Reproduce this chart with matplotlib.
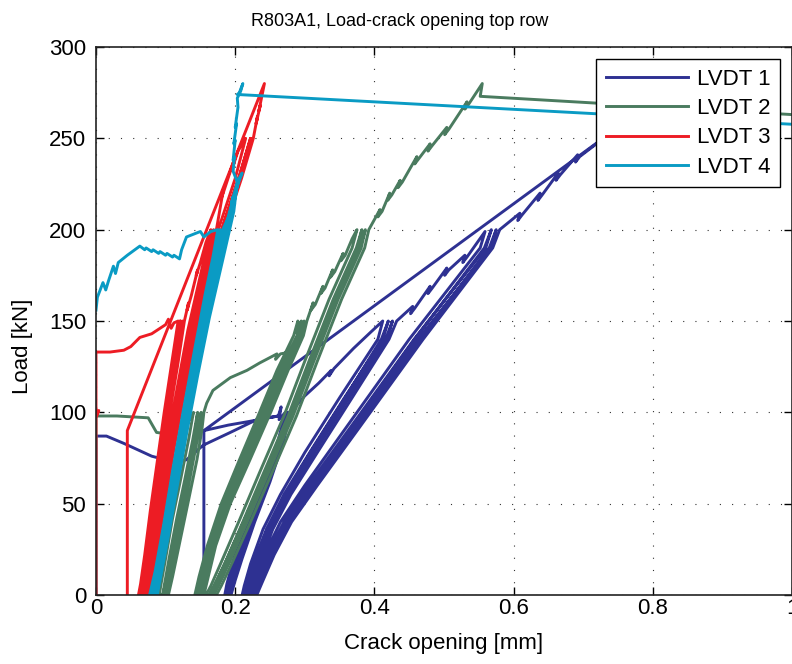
import numpy as np
import matplotlib
matplotlib.use('Agg')
import matplotlib.pyplot as plt

plt.rcParams['font.family'] = ['Liberation Sans', 'DejaVu Sans']

# ---- data (crack opening [mm], load [kN]) ----
nan = np.nan

lvdt1_x = [0, 0, 0.015, 0.04, 0.08, 0.11, 0.13, 0.154, 0.193, 0.231, 0.262, 0.266, 0.263, 0.272,
           0.262, 0.24, 0.217, 0.198, 0.188, 0.185, 0.19, 0.196, 0.205, 0.222, 0.245, 0.266, 0.275,
           0.265, 0.243, 0.22, 0.201, 0.19, 0.187, 0.192, 0.198, 0.207, 0.225, 0.248, 0.268, 0.277,
           0.267, 0.245, 0.222, 0.203, 0.192, 0.189, 0.194, 0.2, 0.21, 0.228, 0.25, 0.27, 0.279,
           0.3, 0.32, 0.338, 0.335, 0.342, 0.37, 0.395, 0.412,
           0.405, 0.35, 0.3, 0.265, 0.24, 0.222, 0.213, 0.21, 0.215, 0.219, 0.228, 0.246, 0.272, 0.308, 0.358, 0.41, 0.42,
           0.412, 0.357, 0.307, 0.27, 0.245, 0.226, 0.216, 0.213, 0.218, 0.222, 0.232, 0.25, 0.276, 0.313, 0.363, 0.416, 0.426,
           0.418, 0.362, 0.312, 0.275, 0.249, 0.23, 0.22, 0.216, 0.221, 0.226, 0.236, 0.254, 0.28, 0.318, 0.368, 0.421, 0.432,
           0.455, 0.452, 0.458, 0.48, 0.477, 0.483, 0.504, 0.501, 0.507, 0.53, 0.527, 0.533, 0.559,
           0.552, 0.45, 0.36, 0.3, 0.265, 0.242, 0.228, 0.22, 0.225, 0.233, 0.248, 0.272, 0.308, 0.368, 0.458, 0.558, 0.568,
           0.56, 0.457, 0.366, 0.305, 0.27, 0.246, 0.231, 0.223, 0.228, 0.236, 0.252, 0.277, 0.313, 0.374, 0.465, 0.565, 0.575,
           0.567, 0.463, 0.371, 0.309, 0.274, 0.25, 0.234, 0.226, 0.231, 0.24, 0.256, 0.281, 0.318, 0.379, 0.47, 0.57, 0.58,
           0.609, 0.606, 0.612, 0.638, 0.635, 0.641, 0.664, 0.661, 0.667, 0.692, 0.689, 0.695, 0.75,
           0.155, 0.155, nan, 0.155, 0.19, 0.22, 0.262]
lvdt1_y = [0, 87, 87, 83, 76, 73, 74, 82, 89, 96, 98, 103, 96, 100,
           85, 62, 40, 20, 6, 0, 0, 8, 20, 40, 62, 85, 100,
           85, 62, 40, 20, 6, 0, 0, 8, 20, 40, 62, 85, 100,
           85, 62, 40, 20, 6, 0, 0, 8, 20, 40, 62, 85, 100,
           109, 116, 123, 120, 124, 135, 144, 150,
           140, 108, 78, 55, 36, 17, 5, 0, 0, 6, 18, 36, 55, 78, 108, 140, 150,
           140, 108, 78, 55, 36, 17, 5, 0, 0, 6, 18, 36, 55, 78, 108, 140, 150,
           140, 108, 78, 55, 36, 17, 5, 0, 0, 6, 18, 36, 55, 78, 108, 140, 150,
           158, 154, 157, 169, 165, 168, 179, 175, 178, 186, 182, 185, 199,
           190, 140, 92, 60, 40, 22, 8, 0, 0, 8, 22, 40, 60, 92, 140, 190, 200,
           190, 140, 92, 60, 40, 22, 8, 0, 0, 8, 22, 40, 60, 92, 140, 190, 200,
           190, 140, 92, 60, 40, 22, 8, 0, 0, 8, 22, 40, 60, 92, 140, 190, 200,
           209, 205, 208, 220, 216, 219, 231, 227, 230, 241, 237, 240, 256,
           90, 0, nan, 90, 93, 95, 98]

lvdt2_x = [0, 0, 0.03, 0.075, 0.087, 0.105, 0.125, 0.132, 0.136, 0.14,
           0.133, 0.122, 0.11, 0.1, 0.093, 0.091, 0.096, 0.102, 0.112, 0.124, 0.135, 0.143, 0.146,
           0.139, 0.128, 0.116, 0.105, 0.098, 0.096, 0.1, 0.106, 0.117, 0.129, 0.14, 0.148, 0.151,
           0.144, 0.133, 0.121, 0.11, 0.103, 0.1, 0.104, 0.11, 0.121, 0.133, 0.145, 0.152, 0.155,
           0.159, 0.168, 0.193, 0.217, 0.235, 0.25, 0.26, 0.258, 0.265, 0.279, 0.288, 0.292, 0.289, 0.29,
           0.284, 0.26, 0.235, 0.205, 0.18, 0.16, 0.148, 0.142, 0.147, 0.152, 0.164, 0.185, 0.212, 0.243, 0.268, 0.29, 0.295,
           0.289, 0.264, 0.239, 0.209, 0.184, 0.164, 0.152, 0.146, 0.151, 0.156, 0.168, 0.189, 0.216, 0.247, 0.272, 0.294, 0.299,
           0.293, 0.268, 0.243, 0.213, 0.188, 0.168, 0.156, 0.15, 0.155, 0.16, 0.172, 0.193, 0.22, 0.251, 0.276, 0.298, 0.303,
           0.312, 0.309, 0.315, 0.326, 0.323, 0.329, 0.34, 0.337, 0.343, 0.355, 0.352, 0.358, 0.368, 0.375,
           0.368, 0.335, 0.3, 0.27, 0.235, 0.205, 0.18, 0.165, 0.158, 0.163, 0.17, 0.186, 0.212, 0.243, 0.278, 0.308, 0.343, 0.376, 0.382,
           0.374, 0.341, 0.306, 0.276, 0.241, 0.211, 0.186, 0.17, 0.163, 0.168, 0.175, 0.191, 0.217, 0.248, 0.283, 0.313, 0.348, 0.381, 0.387,
           0.379, 0.346, 0.311, 0.281, 0.246, 0.216, 0.191, 0.175, 0.168, 0.173, 0.18, 0.196, 0.222, 0.253, 0.288, 0.318, 0.353, 0.386, 0.392,
           0.408, 0.405, 0.411, 0.422, 0.419, 0.425, 0.437, 0.434, 0.44, 0.461, 0.458, 0.464, 0.48, 0.477, 0.483,
           0.504, 0.501, 0.507, 0.533, 0.53, 0.536, 0.555, 0.552, 1.0, 1.3]
lvdt2_y = [0, 98, 98, 97, 89, 88, 93, 99, 96, 100,
           85, 64, 42, 20, 5, 0, 0, 10, 30, 52, 74, 90, 100,
           85, 64, 42, 20, 5, 0, 0, 10, 30, 52, 74, 90, 100,
           85, 64, 42, 20, 5, 0, 0, 10, 30, 52, 74, 90, 100,
           105, 112, 119, 123, 127, 130, 132, 129, 132, 133, 137, 146, 143, 150,
           142, 123, 100, 73, 50, 27, 10, 0, 0, 8, 27, 50, 73, 100, 123, 142, 150,
           142, 123, 100, 73, 50, 27, 10, 0, 0, 8, 27, 50, 73, 100, 123, 142, 150,
           142, 123, 100, 73, 50, 27, 10, 0, 0, 8, 27, 50, 73, 100, 123, 142, 150,
           160, 156, 159, 169, 165, 168, 178, 174, 177, 187, 183, 186, 195, 200,
           190, 162, 128, 98, 67, 40, 18, 5, 0, 0, 5, 18, 40, 67, 98, 128, 162, 190, 200,
           190, 162, 128, 98, 67, 40, 18, 5, 0, 0, 5, 18, 40, 67, 98, 128, 162, 190, 200,
           190, 162, 128, 98, 67, 40, 18, 5, 0, 0, 5, 18, 40, 67, 98, 128, 162, 190, 200,
           211, 207, 210, 220, 216, 219, 227, 223, 226, 240, 236, 239, 247, 243, 246,
           256, 252, 255, 270, 266, 269, 280, 273, 263, 256]

lvdt3_x = [0, 0, 0.004, 0.001, 0, 0, 0.02, 0.04, 0.05, 0.063, 0.08, 0.088, 0.1, 0.104, 0.108, 0.112, 0.118,
           0.108, 0.098, 0.088, 0.078, 0.07, 0.064, 0.061, 0.064, 0.067, 0.073, 0.081, 0.091, 0.101, 0.111, 0.121,
           0.111, 0.101, 0.091, 0.081, 0.072, 0.066, 0.063, 0.066, 0.069, 0.075, 0.083, 0.093, 0.103, 0.114, 0.124,
           0.114, 0.104, 0.094, 0.083, 0.074, 0.068, 0.065, 0.068, 0.071, 0.077, 0.085, 0.095, 0.106, 0.117, 0.127,
           0.133, 0.131, 0.137, 0.146, 0.144, 0.15, 0.158, 0.165,
           0.15, 0.132, 0.115, 0.1, 0.088, 0.077, 0.068, 0.065, 0.068, 0.072, 0.081, 0.092, 0.104, 0.12, 0.137, 0.155, 0.169,
           0.154, 0.136, 0.119, 0.104, 0.091, 0.08, 0.071, 0.067, 0.07, 0.075, 0.084, 0.095, 0.107, 0.123, 0.141, 0.159, 0.173,
           0.183, 0.181, 0.187, 0.2, 0.198, 0.204, 0.215,
           0.2, 0.18, 0.16, 0.14, 0.12, 0.103, 0.09, 0.08, 0.073, 0.07,
           0.073, 0.077, 0.085, 0.095, 0.108, 0.125, 0.145, 0.165, 0.185, 0.205, 0.222,
           0.205, 0.185, 0.165, 0.145, 0.125, 0.108, 0.094, 0.083, 0.076, 0.072,
           0.075, 0.08, 0.088, 0.099, 0.112, 0.129, 0.149, 0.169, 0.189, 0.209, 0.226,
           0.232, 0.23, 0.236, 0.234, 0.242, 0.045, 0.045]
lvdt3_y = [0, 97, 101, 99, 103, 133, 133, 134, 136, 141, 143, 145, 148, 151, 146, 149, 150,
           125, 100, 73, 46, 22, 6, 0, 0, 6, 22, 46, 73, 100, 125, 150,
           125, 100, 73, 46, 22, 6, 0, 0, 6, 22, 46, 73, 100, 125, 150,
           125, 100, 73, 46, 22, 6, 0, 0, 6, 22, 46, 73, 100, 125, 150,
           160, 156, 164, 178, 175, 182, 193, 200,
           175, 145, 110, 80, 52, 25, 7, 0, 0, 7, 25, 52, 80, 110, 145, 175, 200,
           175, 145, 110, 80, 52, 25, 7, 0, 0, 7, 25, 52, 80, 110, 145, 175, 200,
           222, 218, 225, 240, 236, 243, 250,
           228, 205, 180, 150, 115, 80, 50, 25, 8, 0,
           0, 8, 25, 50, 80, 115, 150, 180, 205, 228, 250,
           228, 205, 180, 150, 115, 80, 50, 25, 8, 0,
           0, 8, 25, 50, 80, 115, 150, 180, 205, 228, 250,
           262, 258, 268, 265, 280, 90, 0]

lvdt4_x = [0, 0.002, 0.01, 0.014, 0.018, 0.025, 0.028, 0.032, 0.045, 0.063,
           0.07, 0.072, 0.08, 0.082, 0.09, 0.092, 0.1, 0.102, 0.11, 0.112, 0.12,
           0.123, 0.13, 0.15, 0.155, 0.165, 0.175,
           0.168, 0.157, 0.142, 0.125, 0.11, 0.097, 0.085, 0.077, 0.08, 0.088, 0.1, 0.113, 0.128, 0.145, 0.16, 0.172, 0.178,
           0.171, 0.16, 0.145, 0.128, 0.113, 0.1, 0.088, 0.08, 0.083, 0.091, 0.103, 0.116, 0.131, 0.148, 0.163, 0.175, 0.182,
           0.193, 0.191, 0.197, 0.195, 0.204, 0.21, 0.205,
           0.192, 0.175, 0.155, 0.138, 0.122, 0.108, 0.095, 0.086, 0.082,
           0.085, 0.09, 0.1, 0.113, 0.127, 0.143, 0.16, 0.18, 0.196, 0.205,
           0.195, 0.178, 0.158, 0.141, 0.125, 0.111, 0.098, 0.089, 0.085,
           0.088, 0.093, 0.103, 0.116, 0.13, 0.146, 0.163, 0.183, 0.198, 0.203,
           0.197, 0.199, 0.197, 0.2, 0.198, 0.202, 0.2, 0.204, 0.203, 0.208, 0.211, 0.206, 0.203, 1.0, 1.3]
lvdt4_y = [156, 163, 171, 167, 172, 180, 176, 182, 186, 191,
           189, 190, 188, 189, 187, 188, 186, 187, 185, 186, 184,
           189, 196, 199, 196, 199, 200,
           185, 165, 135, 100, 68, 38, 13, 0, 0, 13, 38, 68, 100, 135, 165, 185, 200,
           185, 165, 135, 100, 68, 38, 13, 0, 0, 13, 38, 68, 100, 135, 165, 185, 200,
           209, 206, 218, 215, 227, 231, 226,
           210, 185, 152, 120, 88, 58, 30, 10, 0,
           0, 10, 30, 58, 88, 120, 152, 185, 210, 228,
           210, 185, 152, 120, 88, 58, 30, 10, 0,
           0, 10, 30, 58, 88, 120, 152, 185, 210, 226,
           232, 240, 238, 249, 247, 258, 256, 267, 272, 276, 280, 275, 274, 257.7, 251.5]

labels = ['LVDT 1', 'LVDT 2', 'LVDT 3', 'LVDT 4']
colors = ['#2e3192', '#4a7b5f', '#ed1c24', '#0a9bc4']

fig = plt.figure(figsize=(7.92, 6.64), dpi=100)
ax = fig.add_axes([96/792, 69/664, 696/792, 548/664])

series = [(lvdt1_x, lvdt1_y), (lvdt2_x, lvdt2_y), (lvdt3_x, lvdt3_y), (lvdt4_x, lvdt4_y)]
for (xs, ys), lab, col in zip(series, labels, colors):
    ax.plot(xs, ys, color=col, lw=2.1, label=lab, solid_joinstyle='round')

ax.set_xlim(0, 1)
ax.set_ylim(0, 300)
ax.set_xticks([0, 0.2, 0.4, 0.6, 0.8, 1.0])
ax.set_xticklabels(['0', '0.2', '0.4', '0.6', '0.8', '1'])
ax.set_yticks([0, 50, 100, 150, 200, 250, 300])

ax.set_axisbelow(True)
ax.grid(True, color='0.2', linestyle=(0, (1, 10)), linewidth=0.8)
ax.tick_params(direction='in', top=True, right=True, length=6, width=1, labelsize=16)
ax.tick_params(axis='x', pad=2)
ax.tick_params(axis='y', pad=7)
for sp in ax.spines.values():
    sp.set_linewidth(1.2)
    sp.set_color('#222222')

ax.set_xlabel('Crack opening [mm]', fontsize=16)
ax.xaxis.set_label_coords(0.5, -0.0876)
ax.xaxis.label.set_verticalalignment('center')
ax.set_ylabel('Load [kN]', fontsize=16)
ax.yaxis.set_label_coords(-0.106, 0.454)
ax.yaxis.label.set_verticalalignment('center')

fig.text(400/792, 1 - 21/664, 'R803A1, Load-crack opening top row', fontsize=13,
         ha='center', va='center')

leg = ax.legend(loc='upper right', fontsize=16, handlelength=3.7, handletextpad=0.4,
                borderpad=0.42, labelspacing=0.38, borderaxespad=0.55, fancybox=False,
                framealpha=1, edgecolor='black')
leg.get_frame().set_linewidth(1.0)
for line in leg.get_lines():
    line.set_linewidth(2.1)

fig.savefig('out.png', dpi=100)
